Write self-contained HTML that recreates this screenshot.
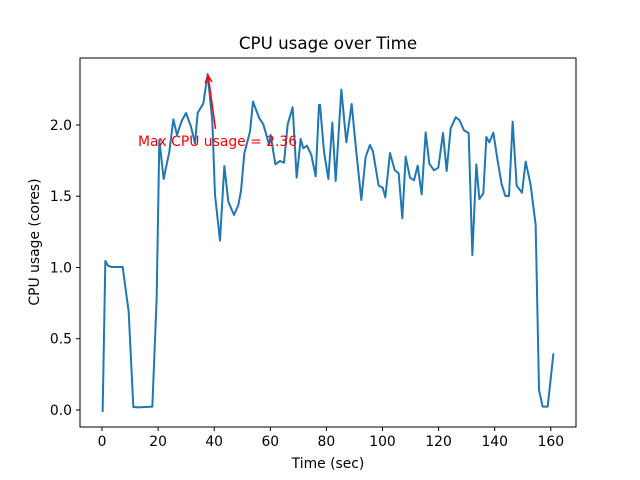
<!DOCTYPE html>
<html><head><meta charset="utf-8"><style>body{margin:0;background:#fff}svg{display:block}</style></head>
<body>
<svg width="640" height="480" xmlns="http://www.w3.org/2000/svg" font-family="DejaVu Sans, Liberation Sans, sans-serif">
<rect width="640" height="480" fill="#fff"/>
<g fill="none" stroke="#1f77b4" stroke-linejoin="round" stroke-linecap="square">
<polyline transform="translate(80,55) scale(0.33333)" stroke-width="6" points="68,1068 76,618 84,632 95,636 128,636 146,770 160,1056 175,1057 217,1055 230,730 238,255 251,372 268,290 280,193 291,240 305,198 318,174 333,215 345,265 353,174 370,145 383,57 397,200 405,420 420,557 433,333 445,440 462,480 475,450 483,408 493,295 510,230 519,140 538,190 550,208 567,268 572,240 586,328 600,318 612,323 623,208 638,157 650,368 662,252 670,280 681,272 694,300 707,364 717,150 720,160"/>
<polyline transform="translate(320,55) scale(0.33333)" stroke-width="6" points="0,150 12,290 25,372 37,203 47,378 64,104 79,262 95,147 108,282 124,435 137,305 150,270 159,290 176,392 188,398 196,427 210,294 224,345 236,355 247,490 257,305 270,368 282,376 293,332 305,418 317,232 328,326 342,346 355,338 369,234 380,348 392,220 407,187 418,195 432,226 446,234 457,600 469,328 478,432 490,415 499,246 508,262 520,233 533,318 545,388 556,423 567,423 578,200 590,392 606,413 617,320 632,390 647,510 657,1005 668,1055 683,1055 700,898"/>
</g>
<rect x="80" y="58" width="496" height="369" fill="none" stroke="#000" stroke-width="1"/>
<g stroke="#000" stroke-width="1">
<line x1="102" y1="427" x2="102" y2="431"/><line x1="158.1" y1="427" x2="158.1" y2="431"/><line x1="214.2" y1="427" x2="214.2" y2="431"/><line x1="270.3" y1="427" x2="270.3" y2="431"/><line x1="326.4" y1="427" x2="326.4" y2="431"/><line x1="382.5" y1="427" x2="382.5" y2="431"/><line x1="438.6" y1="427" x2="438.6" y2="431"/><line x1="494.7" y1="427" x2="494.7" y2="431"/><line x1="550.8" y1="427" x2="550.8" y2="431"/>
<line x1="76" y1="410" x2="80" y2="410"/><line x1="76" y1="338.7" x2="80" y2="338.7"/><line x1="76" y1="267.5" x2="80" y2="267.5"/><line x1="76" y1="196.2" x2="80" y2="196.2"/><line x1="76" y1="125" x2="80" y2="125"/>
</g>
<g font-size="13.9" text-anchor="middle" fill="#000">
<text x="102" y="446">0</text><text x="158.1" y="446">20</text><text x="214.2" y="446">40</text><text x="270.3" y="446">60</text><text x="326.4" y="446">80</text><text x="382.5" y="446">100</text><text x="438.6" y="446">120</text><text x="494.7" y="446">140</text><text x="550.8" y="446">160</text>
<text x="328" y="468">Time (sec)</text>
<text x="328" y="49" font-size="16.7">CPU usage over Time</text>
</g>
<g font-size="13.9" text-anchor="end" fill="#000">
<text x="72" y="415">0.0</text><text x="72" y="343.7">0.5</text><text x="72" y="272.5">1.0</text><text x="72" y="201.2">1.5</text><text x="72" y="130">2.0</text>
</g>
<text transform="translate(39,242) rotate(-90)" font-size="13.9" text-anchor="middle">CPU usage (cores)</text>
<line x1="215.5" y1="129" x2="208.5" y2="78" stroke="red" stroke-width="1.5"/>
<polyline points="205,83 208.3,76 212,82" fill="none" stroke="red" stroke-width="1.5"/>
<text x="138" y="146" font-size="13.9" fill="red">Max CPU usage = 2.36</text>
</svg>
</body></html>
